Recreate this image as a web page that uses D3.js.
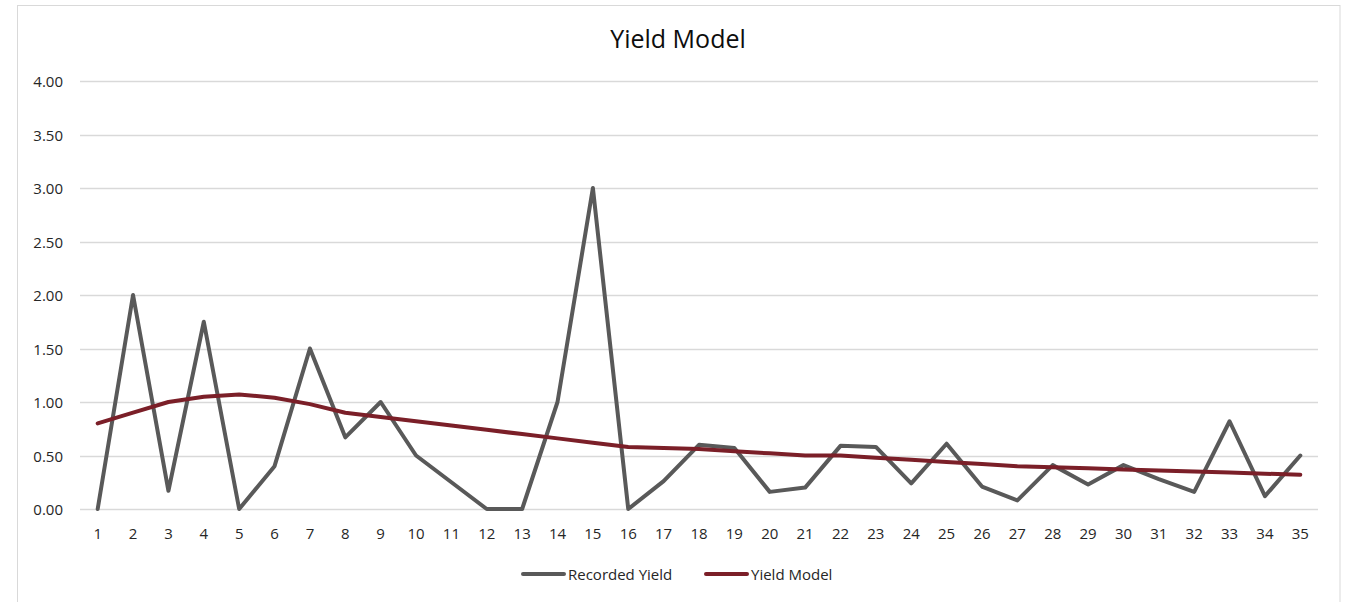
<!DOCTYPE html>
<html>
<head>
<meta charset="utf-8">
<script src="https://cdn.jsdelivr.net/npm/d3@7"></script>
<style>
  body { margin: 0; background: #fff; }
  svg { display: block; font-family: "Open Sans", sans-serif; }
</style>
</head>
<body>
<div id="chart"></div>
<script>
// Data
const periods = d3.range(1, 36).map(String);
const recordedYield = [0, 2.00, 0.17, 1.75, 0, 0.40, 1.50, 0.67, 1.00, 0.50,
    0.25, 0, 0, 1.00, 3.00, 0, 0.26, 0.60, 0.57, 0.16,
    0.20, 0.59, 0.58, 0.24, 0.61, 0.21, 0.08, 0.41, 0.23, 0.41,
    0.28, 0.16, 0.82, 0.12, 0.50];
const yieldModel = [0.80, 0.90, 1.00, 1.05, 1.07, 1.04, 0.98, 0.90, 0.86, 0.82,
    0.78, 0.74, 0.70, 0.66, 0.62, 0.58, 0.57, 0.56, 0.54, 0.52,
    0.50, 0.50, 0.48, 0.46, 0.44, 0.42, 0.40, 0.39, 0.38, 0.37,
    0.36, 0.35, 0.34, 0.33, 0.32];
const yTicks = [0, 0.5, 1, 1.5, 2, 2.5, 3, 3.5, 4];
const seriesNames = ["Recorded Yield", "Yield Model"];
const seriesColors = ["#595959", "#7B1F28"];

const W = 1347, H = 602;
const margin = { top: 81, right: 29, bottom: 93, left: 80 };
const width = W - margin.left - margin.right,
    height = H - margin.top - margin.bottom;

const svg = d3.select("#chart").append("svg")
    .attr("width", W)
    .attr("height", H);

// chart border
svg.append("rect")
    .attr("x", 17.5).attr("y", 5.5)
    .attr("width", 1340 - 17.5).attr("height", 640)
    .attr("fill", "none")
    .attr("stroke", "#d9d9d9");

const g = svg.append("g")
    .attr("transform", `translate(${margin.left},${margin.top})`);

const x = d3.scaleBand().domain(periods).range([0, width]);
const y = d3.scaleLinear().domain([0, 4]).range([height, 0]);
const cx = d => x(d) + x.bandwidth() / 2;

// Gridlines
g.selectAll(".grid")
    .data(yTicks)
    .enter()
    .append("line")
    .attr("class", "grid")
    .attr("x1", 0).attr("x2", width)
    .attr("y1", d => Math.round(y(d)) + 0.5)
    .attr("y2", d => Math.round(y(d)) + 0.5)
    .attr("stroke", "#d9d9d9")
    .attr("stroke-width", 1.3);

// Y labels
g.selectAll(".ylab")
    .data(yTicks)
    .enter()
    .append("text")
    .attr("class", "ylab")
    .attr("x", -17)
    .attr("y", d => y(d) + 6)
    .attr("text-anchor", "end")
    .style("font-size", "15px")
    .style("fill", "#262626")
    .text(d => d.toFixed(2));

// X labels
g.selectAll(".xlab")
    .data(periods)
    .enter()
    .append("text")
    .attr("class", "xlab")
    .attr("x", d => cx(d))
    .attr("y", height + 30)
    .attr("text-anchor", "middle")
    .style("font-size", "15px")
    .style("fill", "#262626")
    .text(d => d);

// Lines
const line = d3.line()
    .x((d, i) => cx(periods[i]))
    .y(d => y(d));

[recordedYield, yieldModel].forEach((vals, i) => {
    g.append("path")
        .datum(vals)
        .attr("fill", "none")
        .attr("stroke", seriesColors[i])
        .attr("stroke-width", 4)
        .attr("stroke-linejoin", "round")
        .attr("stroke-linecap", "round")
        .attr("d", line);
});

// Title
svg.append("text")
    .attr("x", 678)
    .attr("y", 48)
    .attr("text-anchor", "middle")
    .style("font-size", "25px")
    .style("fill", "#0d0d0d")
    .text("Yield Model");

// Legend
const legendX = [523, 706];
const legend = svg.append("g").attr("class", "legend");
seriesNames.forEach((name, i) => {
    legend.append("line")
        .attr("x1", legendX[i]).attr("x2", legendX[i] + 41)
        .attr("y1", 574).attr("y2", 574)
        .attr("stroke", seriesColors[i])
        .attr("stroke-width", 4)
        .attr("stroke-linecap", "round");
    legend.append("text")
        .attr("x", legendX[i] + 45)
        .attr("y", 579.5)
        .style("font-size", "15px")
        .style("fill", "#262626")
        .text(name);
});
</script>
</body>
</html>
